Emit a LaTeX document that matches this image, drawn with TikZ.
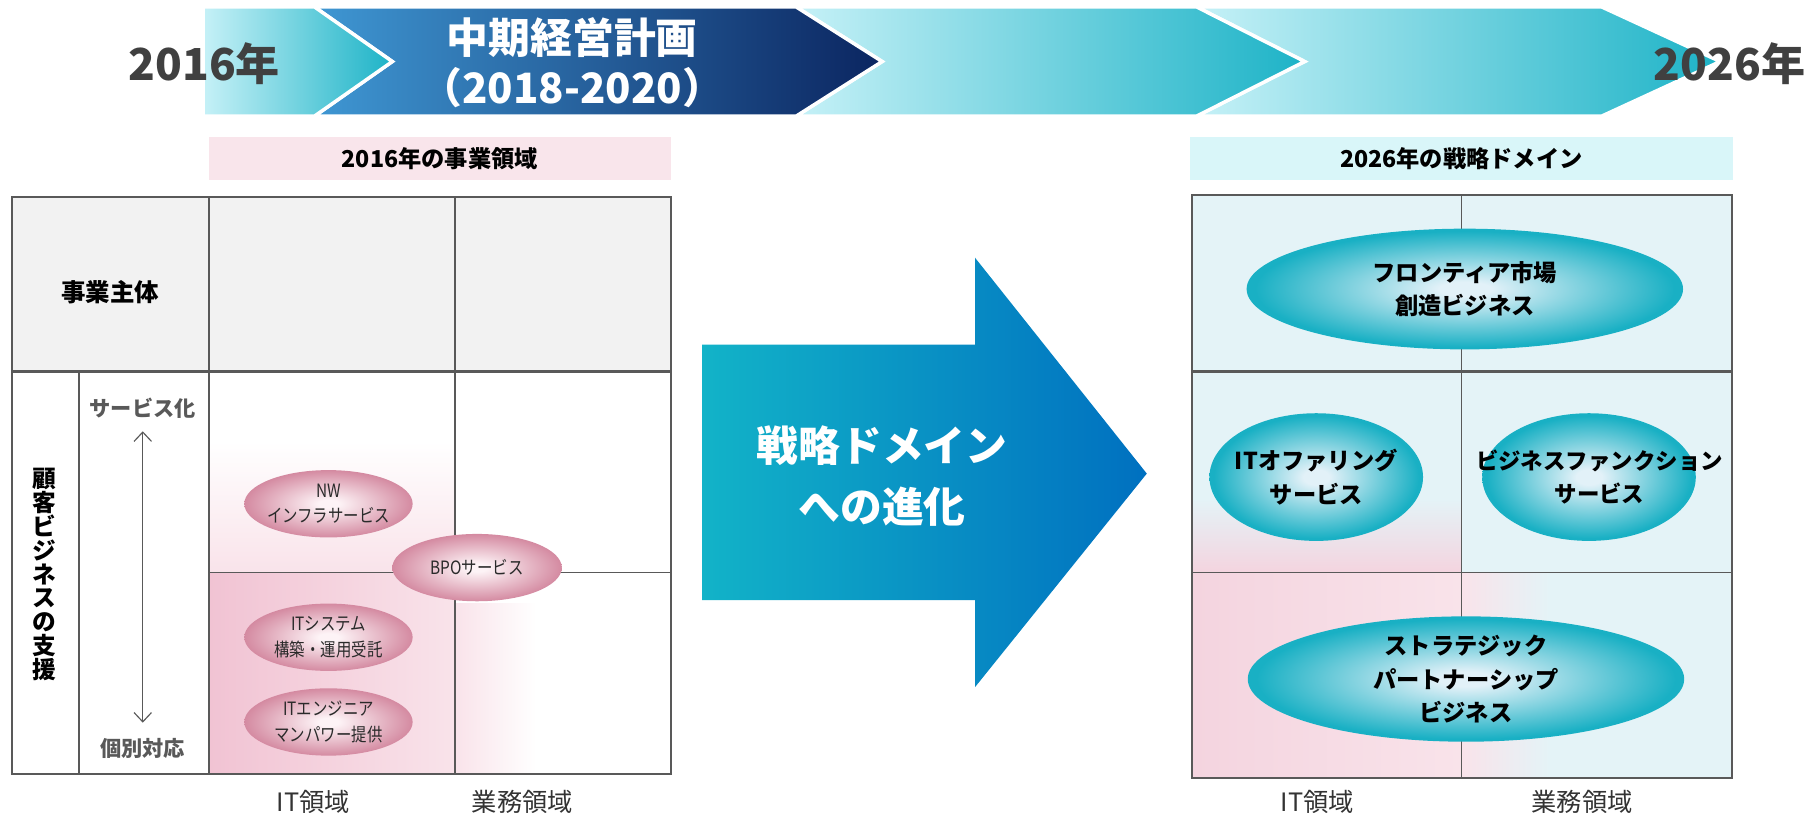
\documentclass[tikz,border=0pt]{standalone}
\usepackage{fontspec}
\setmainfont{Noto Sans CJK JP}
\newfontfamily\condfont[FakeStretch=0.84]{Noto Sans CJK JP}
\usetikzlibrary{shapes.geometric,arrows.meta}
\definecolor{yeartxt}{HTML}{404040}
\definecolor{cyL}{HTML}{C6F1F7}
\definecolor{cyT}{HTML}{1DB3C7}
\definecolor{nvL}{HTML}{3F97D3}
\definecolor{nvR}{HTML}{0B2560}
\definecolor{hdrPink}{HTML}{F9E5EB}
\definecolor{hdrCyan}{HTML}{D9F6F9}
\definecolor{tblGray}{HTML}{F2F2F2}
\definecolor{lineGray}{HTML}{595959}
\definecolor{arL}{HTML}{12B3C8}
\definecolor{arR}{HTML}{0070C0}
\definecolor{rbg}{HTML}{E4F3F7}
\definecolor{pkA}{HTML}{F1C3D3}
\definecolor{pkB}{HTML}{F9E3EA}
\definecolor{pkR}{HTML}{F4D4DF}
\definecolor{pkin}{HTML}{FDF3F6}
\definecolor{pkout}{HTML}{D48AA1}
\definecolor{tlin}{HTML}{E2F1F8}
\definecolor{tlout}{HTML}{19B0C4}
\definecolor{pktxt}{HTML}{2A2A2A}
\definecolor{labtxt}{HTML}{333333}
\pgfdeclareradialshading{pinkball}{\pgfpoint{0bp}{0bp}}{color(0bp)=(pkin); color(3bp)=(pkin); color(25bp)=(pkout); color(50bp)=(pkout)}
\pgfdeclareradialshading{tealball}{\pgfpoint{0bp}{0bp}}{color(0bp)=(tlin); color(3bp)=(tlin); color(24bp)=(tlout); color(50bp)=(tlout)}
\newcommand{\fsz}[2]{\fontsize{#1}{#2}\selectfont}
\tikzset{
  seg/.style={draw=white, line width=0.3mm, line join=miter},
  yeartext/.style={inner sep=0pt, text=yeartxt, font=\fsz{10.8pt}{12pt}\bfseries},
  hdrbox/.style={inner sep=0pt, minimum height=3.7mm, font=\fsz{5.7pt}{6pt}\bfseries},
  tline/.style={draw=lineGray, line width=0.12mm},
  tlinethick/.style={draw=lineGray, line width=0.28mm},
  rowlbl/.style={inner sep=0pt, align=center, font=\fsz{6pt}{7pt}\bfseries},
  axislbl/.style={inner sep=0pt, text=lineGray, font=\fsz{5.2pt}{6pt}\bfseries},
  pinkell/.style={ellipse, inner sep=0pt, shading=pinkball},
  pinktext/.style={inner sep=0pt, align=center, text=pktxt, font=\condfont\fsz{4.5pt}{6.2pt}},
  tealell/.style={ellipse, inner sep=0pt, shading=tealball},
  tealtext/.style={inner sep=0pt, align=center, font=\fsz{5.7pt}{8.2pt}\bfseries},
  bottomlbl/.style={inner sep=0pt, text=labtxt, font=\fsz{6.2pt}{7pt}},
}
\begin{document}
\begin{tikzpicture}[x=0.1mm,y=-0.1mm]
\useasboundingbox (0,0) rectangle (1568,700);

% ---------- top timeline band ----------
\path[seg, left color=cyL, right color=cyT] (1031,6) -- (1380,6) -- (1482,53) -- (1380,100) -- (1031,100) -- (1124,53) -- cycle;
\path[seg, left color=cyL, right color=cyT] (686,6) -- (1031,6) -- (1124,53) -- (1031,100) -- (686,100) -- (760,53) -- cycle;
\path[seg, left color=nvL, right color=nvR] (271,6) -- (686,6) -- (760,53) -- (686,100) -- (271,100) -- (338,53) -- cycle;
\path[seg, left color=cyL, right color=cyT] (175,6) -- (271,6) -- (338,53) -- (271,100) -- (175,100) -- cycle;

\node[yeartext] (y2016) at (176,55) {2016年};
\node[yeartext] (y2026) at (1490,55) {2026年};
\node[inner sep=0pt, align=center, text=white, font=\fsz{10.25pt}{12.2pt}\bfseries] (plan) at (493,54) {中期経営計画\\（2018-2020）};

% ---------- headers ----------
\node[hdrbox, fill=hdrPink, minimum width=39.8mm] (hdrL) at (379,136.5) {2016年の事業領域};
\node[hdrbox, fill=hdrCyan, minimum width=46.8mm] (hdrR) at (1259,136.5) {2026年の戦略ドメイン};

% ---------- left table ----------
\fill[tblGray] (10,170) rectangle (578,320);
\shade[left color=pkA, right color=pkB] (180,493) rectangle (392,667);
\shade[top color=white, bottom color=pkB] (180,380) rectangle (392,493);
\shade[left color=pkB, right color=white] (392,520) rectangle (462,667);

\draw[tline] (180,170) -- (180,667);
\draw[tline] (392,170) -- (392,667);
\draw[tline] (68,320) -- (68,667);
\draw[tline] (180,493) -- (578,493);
\draw[tlinethick] (10,320) -- (578,320);
\draw[draw=lineGray, line width=0.17mm] (10,170) rectangle (578,667);

\node[rowlbl] (shutai) at (95,252) {事業主体};
\node[rowlbl, font=\fsz{5.8pt}{5.85pt}\bfseries] (kokyaku) at (38,495) {顧\\客\\ビ\\ジ\\ネ\\ス\\の\\支\\援};
\node[axislbl] (svc) at (123,352) {サービス化};
\node[axislbl] (indiv) at (123,645) {個別対応};
\draw[draw=lineGray, line width=0.1mm, {Straight Barb[length=0.8mm,width=1.5mm]}-{Straight Barb[length=0.8mm,width=1.5mm]}, shorten <=1.0mm, shorten >=1.3mm] (svc.south) -- (indiv.north);

\node[pinkell, minimum width=14.5mm, minimum height=5.8mm] (nw) at (283,434) {};
\node[pinktext] (nwt) at (nw) {NW\\インフラサービス};
\node[pinkell, minimum width=14.6mm, minimum height=5.8mm] (bpo) at (411,489) {};
\node[pinktext] (bpot) at (bpo) {BPOサービス};
\node[pinkell, minimum width=14.5mm, minimum height=5.8mm] (its) at (283,549) {};
\node[pinktext] (itst) at (its) {ITシステム\\構築・運用受託};
\node[pinkell, minimum width=14.5mm, minimum height=5.8mm] (ite) at (283,622) {};
\node[pinktext] (itet) at (ite) {ITエンジニア\\マンパワー提供};

\node[bottomlbl] (itL) at (270,691) {IT領域};
\node[bottomlbl] (bizL) at (450,691) {業務領域};

% ---------- big arrow ----------
\path[left color=arL, right color=arR] (605,297) -- (840,297) -- (840,222) -- (988,408) -- (840,592) -- (840,517) -- (605,517) -- cycle;
\node[inner sep=0pt, align=center, text=white, font=\fsz{10.25pt}{14.8pt}\bfseries] (evo) at (760,410) {戦略ドメイン\\への進化};

% ---------- right table ----------
\fill[rbg] (1027,168) rectangle (1492,670);
\shade[left color=pkR, right color=pkB] (1027,493) rectangle (1259,670);
\shade[top color=rbg, bottom color=pkR] (1027,430) rectangle (1259,493);
\shade[left color=pkB, right color=rbg] (1259,493) rectangle (1335,670);

\draw[tline] (1259,168) -- (1259,670);
\draw[tline] (1027,493) -- (1492,493);
\draw[tlinethick] (1027,320) -- (1492,320);
\draw[draw=lineGray, line width=0.17mm] (1027,168) rectangle (1492,670);

\node[tealell, minimum width=37.6mm, minimum height=10.4mm] (front) at (1262,249) {};
\node[tealtext] (frontt) at (front) {フロンティア市場\\創造ビジネス};
\node[tealell, minimum width=18.4mm, minimum height=11mm] (itoff) at (1134,411) {};
\node[tealtext] (itofft) at (itoff) {ITオファリング\\サービス};
\node[tealell, minimum width=18.4mm, minimum height=11mm] (bizf) at (1369,411) {};
\node[tealtext, font=\fsz{5.5pt}{8.2pt}\bfseries] (bizft) at (1378,411) {ビジネスファンクション\\サービス};
\node[tealell, minimum width=37.6mm, minimum height=10.8mm] (strat) at (1263,585) {};
\node[tealtext] (stratt) at (strat) {ストラテジック\\パートナーシップ\\ビジネス};

\node[bottomlbl] (itR) at (1135,691) {IT領域};
\node[bottomlbl] (bizR) at (1363,691) {業務領域};
\end{tikzpicture}
\end{document}
